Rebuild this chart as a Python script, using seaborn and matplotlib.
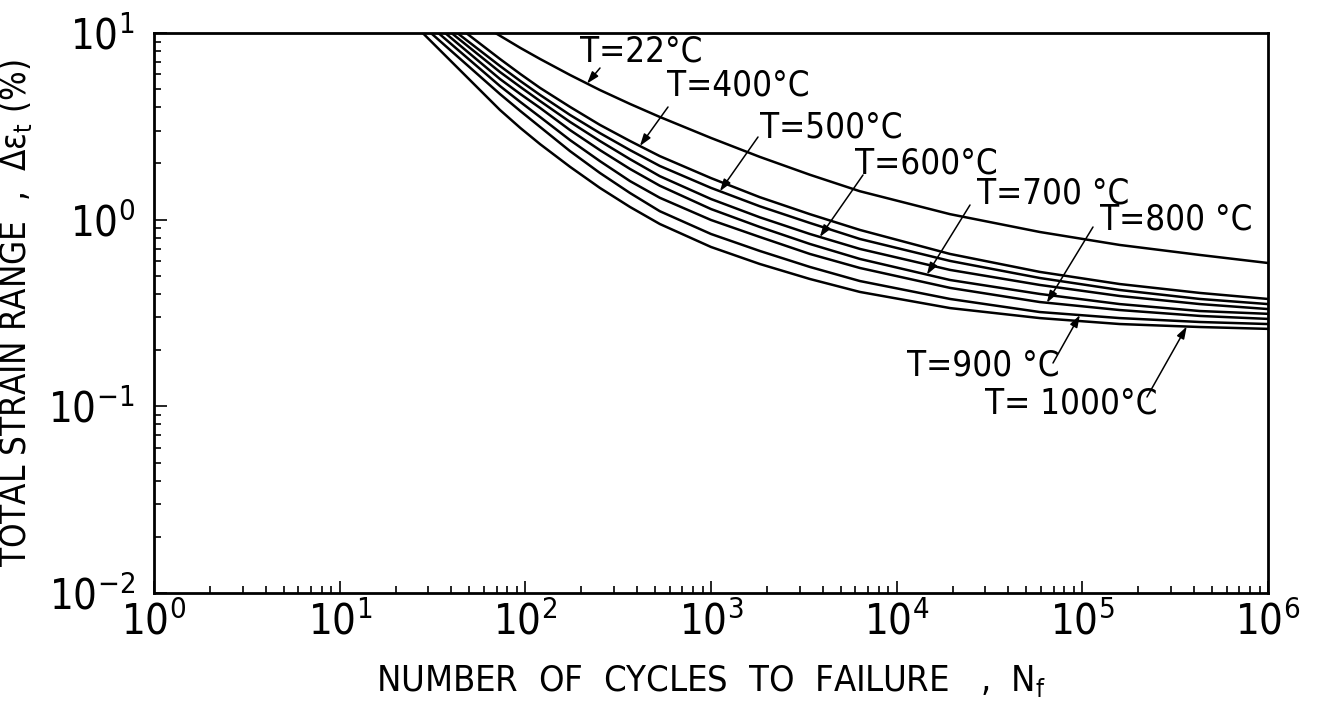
import numpy as np
import pandas as pd
import matplotlib
matplotlib.use("Agg")
import matplotlib.pyplot as plt
import seaborn as sns
from matplotlib import font_manager as fm
from matplotlib.ticker import FixedLocator, FixedFormatter, LogLocator, NullFormatter

# ---------------- data ----------------
temps = ["22", "400", "500", "600", "700", "800", "900", "1000"]

n_grid = [73, 94, 120, 174, 252, 366, 530, 1000, 1830, 3410, 6340,
          19400, 59000, 159000, 430000, 1e6]

n_22 = [69] + n_grid[1:]
s_22 = [10.0, 8.32, 7.26, 5.96, 4.95, 4.17, 3.55, 2.74, 2.17, 1.74, 1.42,
        1.07, 0.859, 0.732, 0.647, 0.586]

n_400 = [48] + n_grid
s_400 = [10.0, 7.26, 6.03, 5.08, 4.02, 3.22, 2.64, 2.19, 1.67, 1.32, 1.07, 0.881,
         0.655, 0.525, 0.452, 0.405, 0.376]

n_500 = [43] + n_grid
s_500 = [10.0, 6.66, 5.53, 4.66, 3.64, 2.91, 2.36, 1.94, 1.48, 1.18, 0.960, 0.788,
         0.601, 0.487, 0.420, 0.376, 0.353]

n_600 = [40] + n_grid
s_600 = [10.0, 6.18, 5.14, 4.32, 3.34, 2.64, 2.11, 1.71, 1.29, 1.03, 0.838, 0.697,
         0.538, 0.447, 0.390, 0.353, 0.332]

n_700 = [37] + n_grid
s_700 = [10.0, 5.67, 4.71, 3.97, 3.02, 2.36, 1.87, 1.52, 1.14, 0.914, 0.741, 0.616,
         0.475, 0.400, 0.353, 0.324, 0.313]

n_800 = [34] + n_grid
s_800 = [10.0, 5.20, 4.27, 3.55, 2.67, 2.06, 1.61, 1.31, 0.996, 0.808, 0.655, 0.551,
         0.431, 0.362, 0.328, 0.305, 0.294]

n_900 = [31] + n_grid
s_900 = [10.0, 4.71, 3.82, 3.14, 2.33, 1.78, 1.39, 1.11, 0.838, 0.680, 0.558, 0.469,
         0.376, 0.320, 0.297, 0.283, 0.276]

n_1000 = [28] + n_grid
s_1000 = [10.0, 3.87, 3.10, 2.54, 1.92, 1.48, 1.17, 0.948, 0.714, 0.579, 0.481, 0.410,
          0.336, 0.297, 0.276, 0.266, 0.260]

series = {
    "22": (n_22, s_22), "400": (n_400, s_400), "500": (n_500, s_500),
    "600": (n_600, s_600), "700": (n_700, s_700), "800": (n_800, s_800),
    "900": (n_900, s_900), "1000": (n_1000, s_1000),
}

x_ticks = [1, 10, 100, 1e3, 1e4, 1e5, 1e6]
x_tick_labels = [r"$\mathregular{10^{%d}}$" % k for k in range(0, 7)]
y_ticks = [1e-2, 1e-1, 1, 10]
y_tick_labels = [r"$\mathregular{10^{-2}}$", r"$\mathregular{10^{-1}}$",
                 r"$\mathregular{10^{0}}$", r"$\mathregular{10^{1}}$"]

labels = ["T=22°C", "T=400°C", "T=500°C", "T=600°C", "T=700 °C",
          "T=800 °C", "T=900 °C", "T= 1000°C"]
# N at which each label's arrow touches its curve
arrow_n = [215, 414, 1117, 3856, 14550, 64400, 97000, 365000]

# ---------------- style ----------------
sns.set_theme(style="white")
names = {f.name for f in fm.fontManager.ttflist}
stretch = "normal"
if "Liberation Sans Narrow" in names:
    fam = "Liberation Sans Narrow"
else:
    fam = "DejaVu Sans"
    if any(f.name == "DejaVu Sans" and f.stretch == "condensed" for f in fm.fontManager.ttflist):
        stretch = "condensed"
plt.rcParams["font.family"] = [fam, "DejaVu Sans"]
plt.rcParams["font.stretch"] = stretch
plt.rcParams["mathtext.fontset"] = "custom"
plt.rcParams["mathtext.rm"] = fam
plt.rcParams["mathtext.it"] = fam
plt.rcParams["mathtext.bf"] = fam
for k in ["text.color", "axes.labelcolor", "xtick.color", "ytick.color", "axes.edgecolor"]:
    plt.rcParams[k] = "black"

rows = []
for t in temps:
    n, s = series[t]
    for i, (a, b) in enumerate(zip(n, s)):
        rows.append({"T": t, "N": a, "strain": b, "order": i})
df = pd.DataFrame(rows)

fig = plt.figure(figsize=(13.32, 7.07), dpi=100)
ax = fig.add_axes([154 / 1332, 1 - 593 / 707, 1114 / 1332, 560 / 707])

sns.lineplot(data=df, x="N", y="strain", hue="T", hue_order=temps,
             palette={t: "black" for t in temps}, estimator=None, sort=False,
             legend=False, linewidth=1.8, ax=ax)

ax.set_xscale("log")
ax.set_yscale("log")
ax.set_xlim(1, 1e6)
ax.set_ylim(1e-2, 1e1)

for sp in ax.spines.values():
    sp.set_linewidth(2.0)
    sp.set_color("black")

ax.xaxis.set_major_locator(FixedLocator(x_ticks))
ax.xaxis.set_major_formatter(FixedFormatter(x_tick_labels))
ax.yaxis.set_major_locator(FixedLocator(y_ticks))
ax.yaxis.set_major_formatter(FixedFormatter(y_tick_labels))
ax.xaxis.set_minor_locator(LogLocator(base=10, subs=np.arange(2, 10)))
ax.yaxis.set_minor_locator(LogLocator(base=10, subs=np.arange(2, 10)))
ax.xaxis.set_minor_formatter(NullFormatter())
ax.yaxis.set_minor_formatter(NullFormatter())
ax.tick_params(which="both", direction="in", bottom=True, left=True,
               top=False, right=False, color="black", width=1.2)
ax.tick_params(which="major", length=9)
ax.tick_params(which="minor", length=5)
ax.tick_params(axis="x", which="major", labelsize=30, pad=6, labelcolor="black")
ax.tick_params(axis="y", which="major", labelsize=30, pad=14, labelcolor="black")

ax.set_xlabel("NUMBER  OF  CYCLES  TO  FAILURE   ,  N$_f$", fontsize=26, labelpad=14,
              color="black")
ax.set_ylabel("TOTAL STRAIN RANGE  ,  Δε$_t$ (%)", fontsize=25, labelpad=10,
              color="black")

# ---------------- annotations ----------------
def fx(px):
    return (px - 154) / 1114

def fy(py):
    return (593 - py) / 560

text_pos = [(580, 52), (667, 85), (760, 127), (855, 163), (977, 193),
            (1100, 220), (907, 366), (985, 404)]
tails = [(600, 68), (668, 107), (758, 137), (863, 175), (970, 205),
         (1093, 227), (1053, 363), (1147, 397)]

for t, lab, an, (tx, ty), (ax_, ay_) in zip(temps, labels, arrow_n, text_pos, tails):
    n, s = series[t]
    tip_y = 10 ** np.interp(np.log10(an), np.log10(n), np.log10(s))
    ax.text(fx(tx), fy(ty), lab, transform=ax.transAxes, ha="left", va="center",
            fontsize=25, color="black")
    ax.annotate("", xy=(an, tip_y), xycoords="data",
                xytext=(fx(ax_), fy(ay_)), textcoords="axes fraction",
                arrowprops=dict(arrowstyle="-|>,head_length=0.6,head_width=0.2",
                                color="black", lw=1.1, shrinkA=0, shrinkB=0))

fig.savefig("out.png", dpi=100, facecolor="white")
